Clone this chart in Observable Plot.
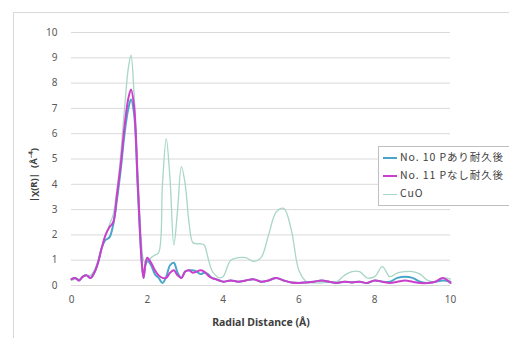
<!DOCTYPE html>
<html><head><meta charset="utf-8">
<script src="https://cdn.jsdelivr.net/npm/d3@7"></script>
<script src="https://cdn.jsdelivr.net/npm/@observablehq/plot@0.6"></script>
<style>
html,body{margin:0;padding:0;background:#fff;overflow:hidden;width:509px;height:338px;}
#wrap{position:relative;width:509px;height:338px;}
#border{position:absolute;left:13px;top:12px;width:520px;height:340px;border:1px solid #d9d9d9;box-sizing:border-box;pointer-events:none;}
#legend{position:absolute;left:378px;top:146px;width:170px;height:60px;border:1px solid #bfbfbf;background:#fff;font-family:"Noto Sans CJK JP","Noto Sans",sans-serif;font-size:10.5px;letter-spacing:0.9px;color:#404040;box-sizing:border-box;}
.item{position:absolute;left:4px;height:14px;line-height:14px;white-space:nowrap;}
.item span.sw{display:inline-block;width:14px;height:0;vertical-align:middle;margin-right:3px;}
</style></head>
<body><div id="wrap"><div id="chart"></div><div id="border"></div><div id="legend"></div></div>
<script>
const r = [0,0.1,0.2,0.3,0.4,0.5,0.6,0.7,0.8,0.9,1.0,1.1,1.2,1.3,1.4,1.5,1.57,1.65,1.75,1.85,1.9,1.95,2.0,2.1,2.2,2.3,2.4,2.5,2.6,2.7,2.8,2.9,3.0,3.1,3.2,3.3,3.4,3.5,3.6,3.7,3.8,3.9,4.0,4.2,4.4,4.6,4.8,5.0,5.2,5.4,5.6,5.8,6.0,6.2,6.4,6.6,6.8,7.0,7.2,7.4,7.6,7.8,8.0,8.2,8.4,8.6,8.8,9.0,9.2,9.4,9.6,9.8,10.0];
const no10 = [0.25,0.3,0.2,0.35,0.4,0.3,0.5,0.9,1.5,1.8,1.9,2.4,3.4,4.6,6.0,7.0,7.35,6.8,3.8,1.0,0.3,0.8,1.0,0.8,0.45,0.3,0.1,0.35,0.8,0.9,0.5,0.3,0.55,0.6,0.6,0.55,0.45,0.5,0.45,0.3,0.25,0.2,0.15,0.2,0.15,0.2,0.25,0.15,0.2,0.3,0.2,0.12,0.1,0.12,0.15,0.2,0.15,0.1,0.15,0.12,0.15,0.1,0.2,0.15,0.15,0.3,0.35,0.3,0.15,0.1,0.15,0.2,0.15];
const no11 = [0.25,0.3,0.2,0.35,0.4,0.3,0.5,0.9,1.5,2.0,2.3,2.5,3.6,4.8,6.3,7.4,7.75,7.1,4.0,1.0,0.3,0.85,1.1,0.9,0.6,0.4,0.3,0.3,0.5,0.6,0.4,0.3,0.55,0.6,0.5,0.55,0.6,0.55,0.4,0.3,0.25,0.2,0.15,0.2,0.15,0.2,0.25,0.15,0.2,0.3,0.2,0.12,0.1,0.12,0.15,0.2,0.15,0.1,0.15,0.12,0.15,0.1,0.2,0.15,0.1,0.15,0.2,0.15,0.1,0.1,0.15,0.3,0.1];
const cuo = [0.2,0.25,0.25,0.35,0.4,0.4,0.6,1.0,1.5,2.0,2.4,2.8,3.8,5.2,7.0,8.6,9.1,7.6,4.5,1.6,1.0,0.9,0.9,1.1,1.2,1.3,4.0,5.8,4.2,1.6,3.0,4.7,4.0,2.5,1.7,1.65,1.65,1.6,1.1,0.6,0.4,0.3,0.35,1.0,1.1,1.1,0.95,1.1,2.0,2.9,3.05,2.2,0.6,0.15,0.1,0.1,0.12,0.15,0.4,0.55,0.55,0.3,0.35,0.75,0.35,0.5,0.55,0.55,0.45,0.2,0.15,0.3,0.25];
const seriesNames = ["No. 10 Pあり耐久後","No. 11 Pなし耐久後","CuO"];
const seriesColors = ["#4aa6c8","#cc3fcc","#a8d6c8"];
const xTicks = [0,2,4,6,8,10];
const yTicks = [0,1,2,3,4,5,6,7,8,9,10];

const toRows = (vals, name) => vals.map((v,i)=>({r:r[i], v, s:name}));
const d10 = toRows(no10, seriesNames[0]);
const d11 = toRows(no11, seriesNames[1]);
const dcu = toRows(cuo, seriesNames[2]);

const font = "Noto Sans, sans-serif";
const chart = Plot.plot({
  width:509, height:338,
  marginLeft:71, marginRight:59, marginTop:32, marginBottom:53,
  style:{fontFamily:font, fontSize:"10px", color:"#595959", background:"transparent"},
  x:{domain:[0,10], ticks:xTicks, tickSize:0, tickPadding:10, label:null},
  y:{domain:[0,10], ticks:yTicks, tickSize:0, tickPadding:14, label:null},
  marks:[
    Plot.ruleY(yTicks, {stroke:"#d9d9d9", strokeWidth:1}),
    Plot.line(dcu, {x:"r", y:"v", stroke:seriesColors[2], strokeWidth:1.3, curve:"catmull-rom"}),
    Plot.line(d10, {x:"r", y:"v", stroke:seriesColors[0], strokeWidth:2, curve:"catmull-rom"}),
    Plot.line(d11, {x:"r", y:"v", stroke:seriesColors[1], strokeWidth:2, curve:"catmull-rom"}),
    Plot.axisX({ticks:xTicks, tickSize:0, tickPadding:10, label:null, fill:"#595959"}),
    Plot.axisY({ticks:yTicks, tickSize:0, tickPadding:14, label:null, fill:"#595959"}),
    Plot.text(["Radial Distance (Å)"], {frameAnchor:"bottom", dy:40, fontWeight:"bold", fontSize:10.5, fill:"#404040"}),
    Plot.text(["|χ(R)|  (Å⁻⁴)"], {frameAnchor:"left", textAnchor:"middle", dx:-38, dy:16, rotate:-90, fontWeight:"bold", fontSize:9.5, fill:"#404040"})
  ]
});
document.getElementById("chart").appendChild(chart);

const lg = document.getElementById("legend");
const tops = [3,21,39];
seriesNames.forEach((n,i)=>{
  const d = document.createElement("div");
  d.className="item"; d.style.top = tops[i]+"px";
  d.innerHTML = `<span class="sw" style="border-top:${i<2?2:1.3}px solid ${seriesColors[i]}"></span>${n}`;
  lg.appendChild(d);
});
</script>
</body></html>
